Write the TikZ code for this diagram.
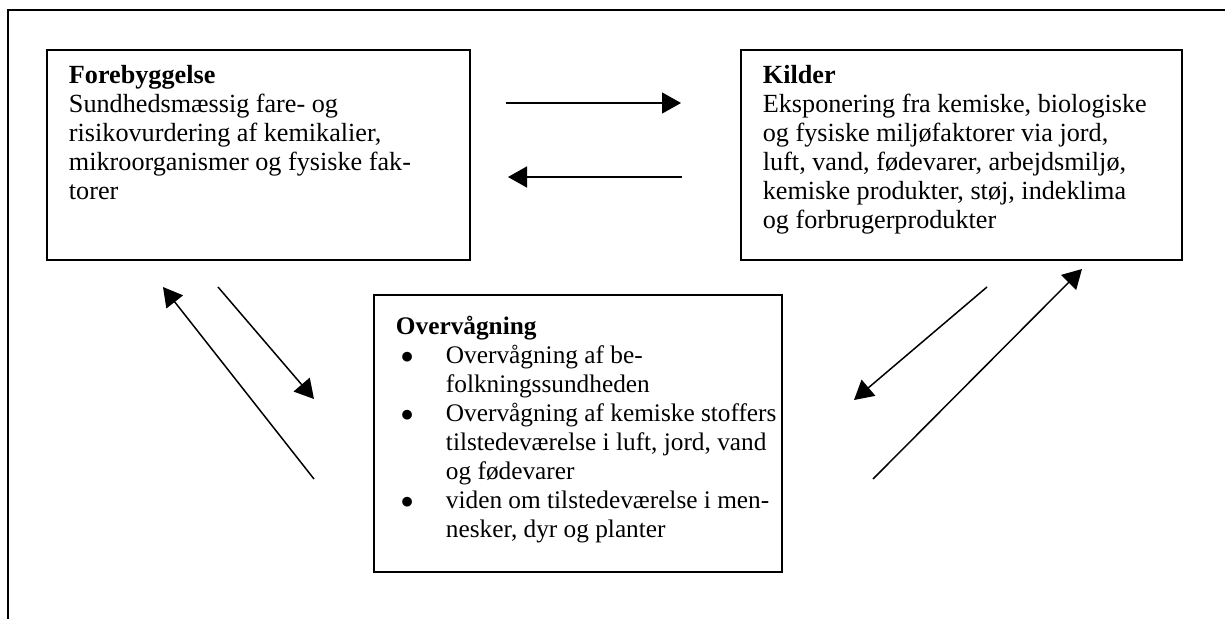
\documentclass[tikz,border=0pt]{standalone}
\usepackage{fontspec}
\setmainfont{Liberation Serif}
\usetikzlibrary{
        arrows.meta,
        positioning
    }
\tikzset{>={Triangle[length=0.38cm,width=0.42cm]},node distance=2cm}
\tikzset{
    box/.style={draw,line width=1.1pt,inner xsep=0pt,inner ysep=0.3cm,
        font=\fontsize{14.9}{16.5}\selectfont},
    flow/.style={->,line width=0.85pt},
    frame/.style={line width=1.1pt}
}
\newcommand{\boxbody}[3]{\begin{minipage}[t][#2][t]{#1}\raggedright\leftskip=0.44cm\rightskip=-0.3cm plus 1fil #3\end{minipage}}
\newcommand{\bitem}[1]{\par\hangindent=1cm\hangafter=1\noindent\makebox[1cm][l]{\hspace{0.1cm}$\bullet$}#1}

\begin{document}
\begin{tikzpicture}
                    \useasboundingbox (0,0) rectangle (24.5,-12.38);
                    \draw[frame] (24.5,-0.2) -- (0.16,-0.2) -- (0.16,-12.38);
                    \node[box,anchor=north west] (forebyg) at (0.92,-0.98)
                        {\boxbody{8.46cm}{3.6cm}{\textbf{Forebyggelse}\\
                        Sundhedsmæssig fare- og\\
                        risikovurdering af kemikalier,\\
                        mikroorganismer og fysiske fak-\\
                        torer}};
                    \node[box] (kilder) [right=5.38cm of forebyg]
                        {\boxbody{8.82cm}{3.6cm}{\textbf{Kilder}\\
                        Eksponering fra kemiske, biologiske\\
                        og fysiske miljøfaktorer via jord,\\
                        luft, vand, fødevarer, arbejdsmiljø,\\
                        kemiske produkter, støj, indeklima\\
                        og forbrugerprodukter}};
                    \node[box,anchor=north west,font=\fontsize{14.4}{16.5}\selectfont] (overv) at (7.46,-5.88)
                        {\boxbody{8.16cm}{4.94cm}{\vspace*{0.12cm}\textbf{Overvågning}
                        \bitem{Overvågning af be-\newline folkningssundheden}
                        \bitem{Overvågning af kemiske stoffers\newline tilstedeværelse i luft, jord, vand\newline og fødevarer}
                        \bitem{viden om tilstedeværelse i men-\newline nesker, dyr og planter}}};
                    % free arrow ends
                    \coordinate (fk1) at (10.12,-2.06);
                    \coordinate (fk2) at (13.62,-2.06);
                    \coordinate (kf1) at (13.64,-3.54);
                    \coordinate (kf2) at (10.16,-3.54);
                    \coordinate (of1) at (6.28,-9.58);
                    \coordinate (of2) at (3.26,-5.74);
                    \coordinate (fo1) at (4.36,-5.74);
                    \coordinate (fo2) at (6.28,-7.98);
                    \coordinate (ko1) at (19.74,-5.74);
                    \coordinate (ko2) at (17.08,-8.0);
                    \coordinate (ok1) at (17.46,-9.58);
                    \coordinate (ok2) at (21.64,-5.38);
                    \path[flow]
                        (fk1) edge (fk2)
                        (kf1) edge (kf2)
                        (of1) edge (of2)
                        (fo1) edge (fo2)
                        (ko1) edge (ko2)
                        (ok1) edge (ok2);
                \end{tikzpicture}
\end{document}
